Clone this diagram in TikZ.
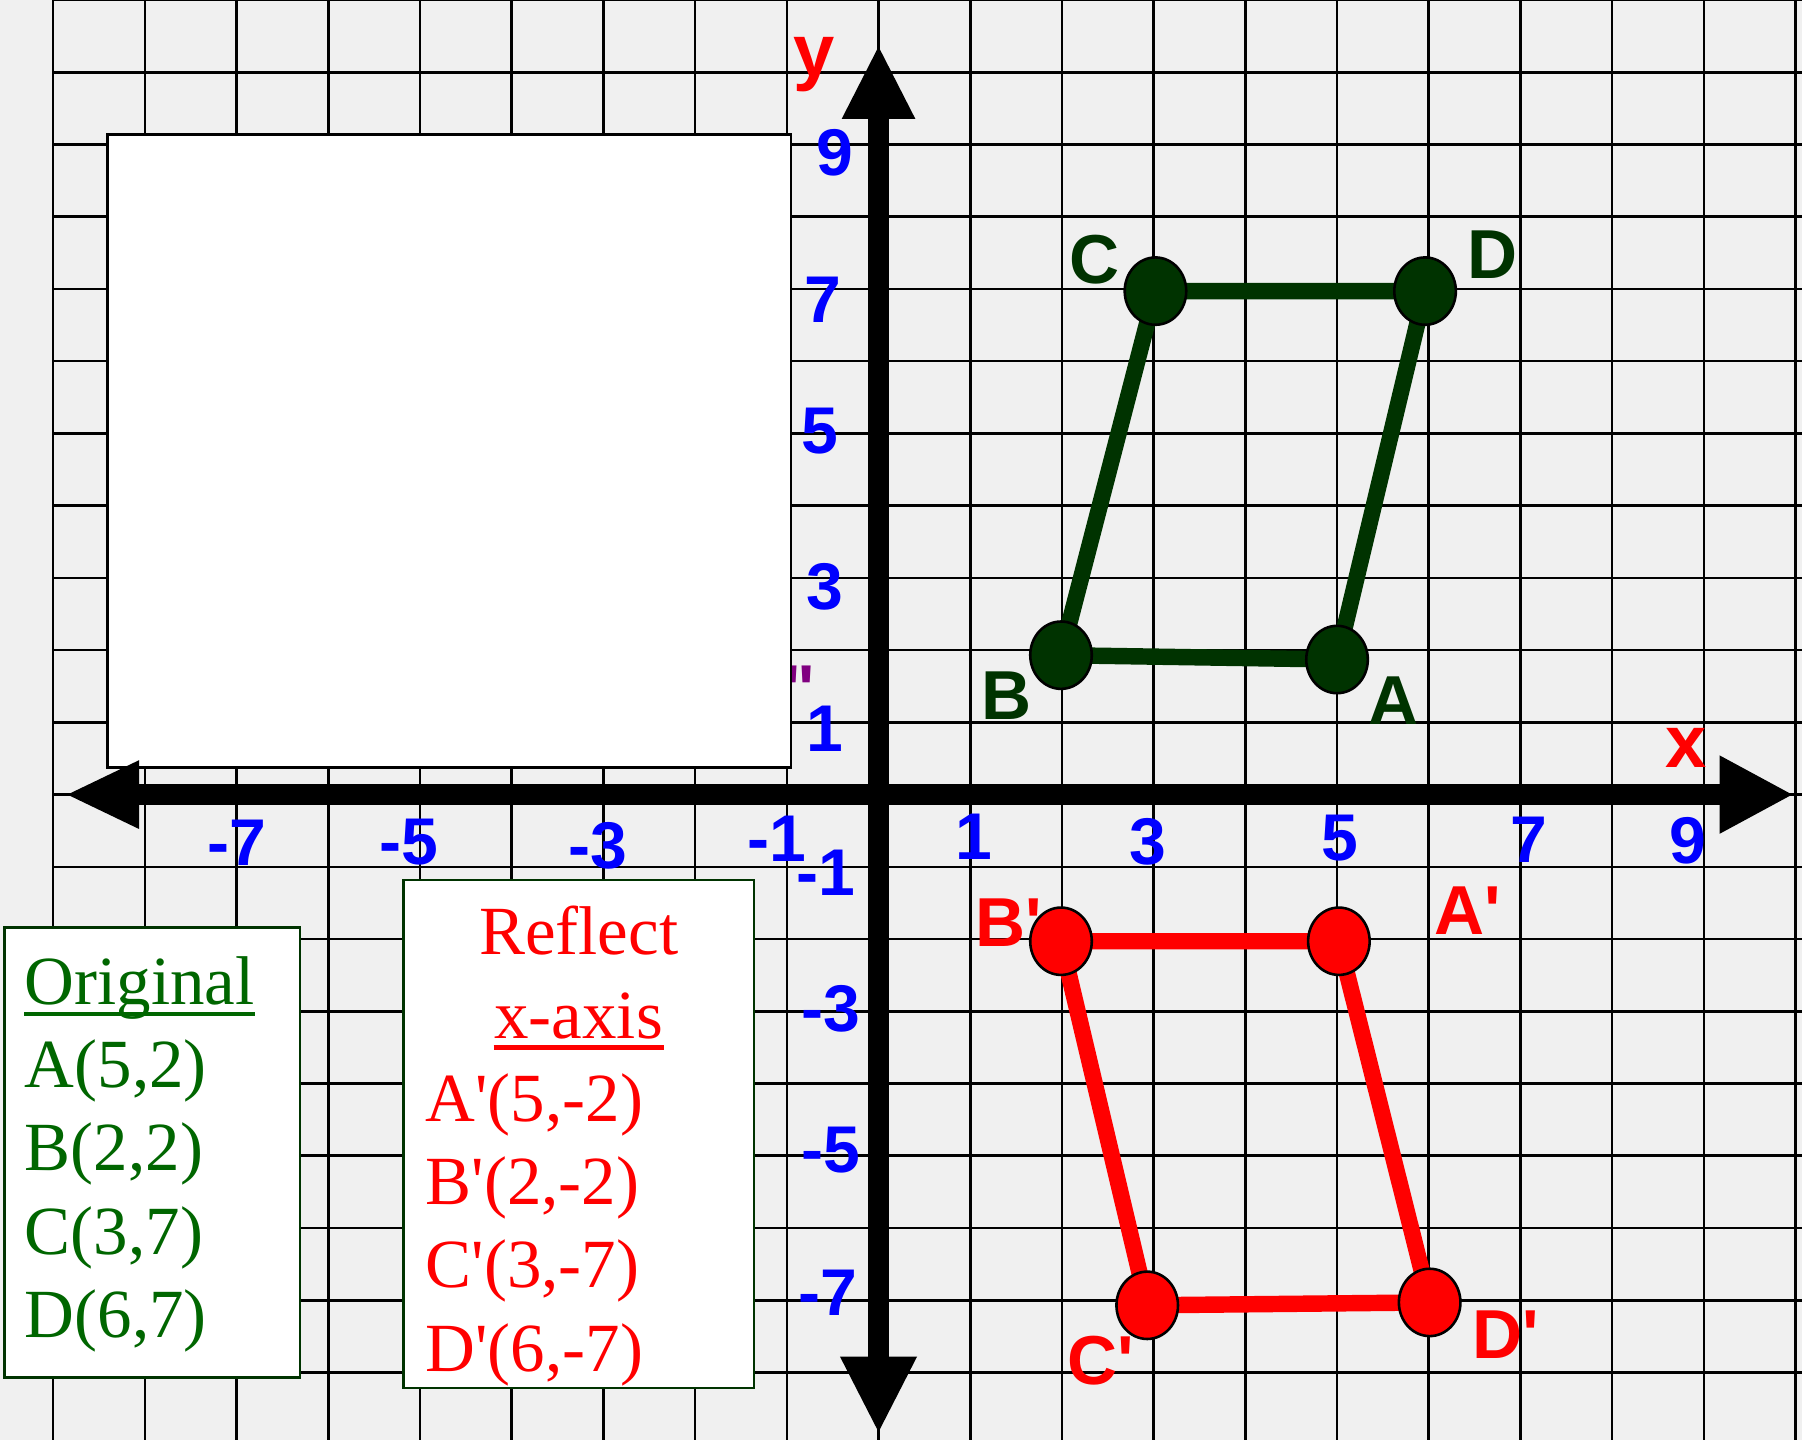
\documentclass[tikz,border=0pt]{standalone}
\usepackage{fontspec}
\setmainfont{Liberation Serif}
\newfontfamily\arialfam{Liberation Sans}
\usetikzlibrary{arrows.meta,shapes.geometric}
\definecolor{paper}{RGB}{240,240,240}
\definecolor{tickblue}{RGB}{0,0,255}
\definecolor{refred}{RGB}{255,0,0}
\definecolor{ptgreen}{RGB}{0,51,0}
\definecolor{listgreen}{RGB}{0,102,0}
\definecolor{boxgreen}{RGB}{0,51,0}
\definecolor{markpurple}{RGB}{128,0,128}
\tikzset{
  gridline/.style={draw=black, line width=0.8pt},
  axisline/.style={line width=6.5pt},
  ticklbl/.style={font=\arialfam\bfseries\fontsize{20.5}{24}\selectfont, text=tickblue, inner sep=0pt},
  axislbl/.style={font=\arialfam\bfseries\fontsize{23}{26}\selectfont, text=refred, inner sep=0pt},
  ptlbl/.style={font=\arialfam\bfseries\fontsize{21.5}{25}\selectfont, text=#1, inner sep=0pt},
  vtx/.style={ellipse, draw=black, line width=0.8pt, fill=#1,
              minimum width=19.1pt, minimum height=20.9pt, inner sep=0pt},
  quadside/.style={draw=#1, line width=5.1pt},
  listbox/.style={draw=boxgreen, fill=white, line width=0.7pt},
  listtxt/.style={font=\fontsize{21.4}{25}\selectfont, text=#1, inner sep=0pt, anchor=base west},
}

\begin{document}
\begin{tikzpicture}[x=1cm, y=0.7877cm]

% Paper and grid
\useasboundingbox (-9.58,-8.934) rectangle (10.07,11.0);
\fill[paper] (-9.58,-8.934) rectangle (10.07,11.0);
\draw[gridline, step=1] (-9,-8.934) grid (10.07,11.0);

% Leftover mark and white cover
\node[font=\arialfam\bfseries\fontsize{21}{25}\selectfont, text=markpurple, inner sep=0pt] (mark) at (-0.858,1.70) {\raisebox{-0.47em}[0.25em][0pt]{"}};
\filldraw[fill=white, draw=black, line width=0.8pt] (-8.41,0.374) rectangle (-0.956,9.14);

% Coordinate lists
\filldraw[listbox] (-9.53,-8.07) rectangle (-6.31,-1.84);
\filldraw[listbox] (-5.18,-8.21) rectangle (-1.36,-1.18);

\node[listtxt=listgreen] (orig-ttl) at (-9.316,-2.91) {Original};
\draw[listgreen, line width=1.4pt] ([yshift=-2.8pt]orig-ttl.base west) -- ([yshift=-2.8pt]orig-ttl.base east);
\node[listtxt=listgreen] (orig-a) at (-9.316,-4.06) {A(5,2)};
\node[listtxt=listgreen] (orig-b) at (-9.316,-5.21) {B(2,2)};
\node[listtxt=listgreen] (orig-c) at (-9.316,-6.36) {C(3,7)};
\node[listtxt=listgreen] (orig-d) at (-9.316,-7.51) {D(6,7)};

\node[listtxt=refred, anchor=base] (refl-ttl) at (-3.27,-2.22) {Reflect};
\node[listtxt=refred, anchor=base] (refl-axis) at (-3.27,-3.37) {x-axis};
\draw[refred, line width=1.4pt] ([yshift=-3pt]refl-axis.base west) -- ([yshift=-3pt]refl-axis.base east);
\node[listtxt=refred] (refl-a) at (-4.945,-4.53) {A\textquotesingle(5,-2)};
\node[listtxt=refred] (refl-b) at (-4.945,-5.68) {B\textquotesingle(2,-2)};
\node[listtxt=refred] (refl-c) at (-4.945,-6.83) {C\textquotesingle(3,-7)};
\node[listtxt=refred] (refl-d) at (-4.945,-7.98) {D\textquotesingle(6,-7)};

% Axes
\coordinate (xneg) at (-8.87,0);
\coordinate (xpos) at (9.98,0);
\coordinate (yneg) at (0,-8.85);
\coordinate (ypos) at (0,10.38);
\draw[axisline, {Triangle[length=23pt,width=19.5pt]}-{Triangle[length=23pt,width=22.5pt]}] (xneg) -- (xpos);
\draw[axisline, {Triangle[length=24pt,width=22pt]}-{Triangle[length=23pt,width=21pt]}] (yneg) -- (ypos);
\node[axislbl] (xname) at (8.81,0.64) {x};
\node[axislbl] (yname) at (-0.70,10.1) {y};

% Original figure
\coordinate (A) at (5,1.87);
\coordinate (B) at (1.99,1.93);
\coordinate (C) at (3.02,6.97);
\coordinate (D) at (5.96,6.97);
\draw[quadside=ptgreen] (A) -- (B) -- (C) -- (D) -- cycle;
\node[vtx=ptgreen] (A-dot) at (A) {};
\node[vtx=ptgreen] (B-dot) at (B) {};
\node[vtx=ptgreen] (C-dot) at (C) {};
\node[vtx=ptgreen] (D-dot) at (D) {};
\node[ptlbl=ptgreen] (A-lbl) at (5.62,1.30) {A};
\node[ptlbl=ptgreen] (B-lbl) at (1.40,1.37) {B};
\node[ptlbl=ptgreen] (C-lbl) at (2.36,7.41) {C};
\node[ptlbl=ptgreen] (D-lbl) at (6.70,7.47) {D};

% Reflected figure
\coordinate (Ar) at (5.02,-2.03);
\coordinate (Br) at (1.99,-2.03);
\coordinate (Cr) at (2.93,-7.07);
\coordinate (Dr) at (6.01,-7.03);
\draw[quadside=refred] (Ar) -- (Br) -- (Cr) -- (Dr) -- cycle;
\node[ptlbl=refred] (Br-lbl) at (1.425,-1.77) {B\textquotesingle};
\node[vtx=refred] (Ar-dot) at (Ar) {};
\node[vtx=refred] (Br-dot) at (Br) {};
\node[vtx=refred] (Cr-dot) at (Cr) {};
\node[vtx=refred] (Dr-dot) at (Dr) {};
\node[ptlbl=refred] (Ar-lbl) at (6.42,-1.61) {A\textquotesingle};
\node[ptlbl=refred] (Cr-lbl) at (2.42,-7.83) {C\textquotesingle};
\node[ptlbl=refred] (Dr-lbl) at (6.84,-7.47) {D\textquotesingle};

% Tick numbers on the y-axis
\node[ticklbl] (y9) at (-0.48,8.89) {9};
\node[ticklbl] (y7) at (-0.605,6.85) {7};
\node[ticklbl] (y5) at (-0.64,5.03) {5};
\node[ticklbl] (y3) at (-0.58,2.87) {3};
\node[ticklbl] (y1) at (-0.58,0.915) {1};
\node[ticklbl] (ym1) at (-0.57,-1.08) {-1};
\node[ticklbl] (ym3) at (-0.52,-2.96) {-3};
\node[ticklbl] (ym5) at (-0.52,-4.92) {-5};
\node[ticklbl] (ym7) at (-0.55,-6.9) {-7};

% Tick numbers on the x-axis
\node[ticklbl] (xm7) at (-7.0,-0.66) {-7};
\node[ticklbl] (xm5) at (-5.12,-0.66) {-5};
\node[ticklbl] (xm3) at (-3.06,-0.71) {-3};
\node[ticklbl] (xm1) at (-1.11,-0.61) {-1};
\node[ticklbl] (x1) at (1.04,-0.59) {1};
\node[ticklbl] (x3) at (2.94,-0.65) {3};
\node[ticklbl] (x5) at (5.03,-0.6) {5};
\node[ticklbl] (x7) at (7.09,-0.63) {7};
\node[ticklbl] (x9) at (8.82,-0.64) {9};

\end{tikzpicture}
\end{document}
